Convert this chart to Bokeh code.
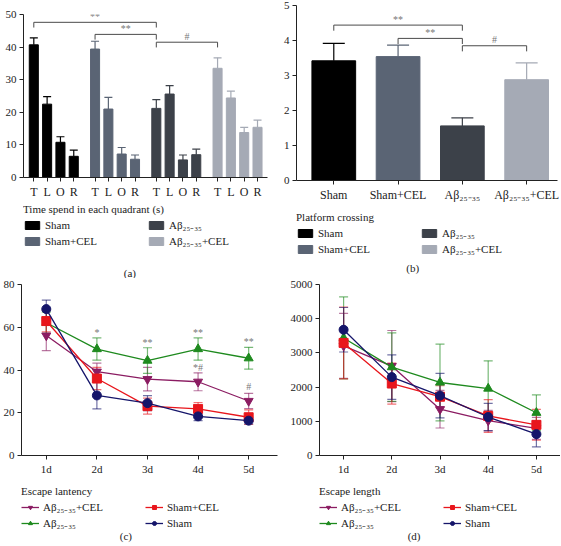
from bokeh.plotting import figure
from bokeh.models import (ColumnDataSource, Whisker, TeeHead, Legend, LegendItem,
                          FixedTicker, Label, Range1d)
from bokeh.layouts import gridplot, column
from bokeh.embed import file_html
from bokeh.resources import INLINE
from bokeh.core.properties import value

FONT = "Liberation Serif"
AB = "Aβ₂₅₋₃₅"

# ---------------- data ----------------
groups = ["Sham", "Sham+CEL", AB, AB + "+CEL"]
group_colors = ["#000000", "#5a6474", "#3c4149", "#a5aab5"]
quadrants = ["T", "L", "O", "R"]

# (a) time spent in each quadrant (s)
time_sham = [40.7, 22.5, 10.8, 6.5]
time_sham_err = [2.1, 2.3, 1.7, 1.9]
time_shamcel = [39.4, 21.0, 7.2, 5.6]
time_shamcel_err = [2.4, 3.6, 2.0, 1.3]
time_ab = [21.2, 25.6, 5.4, 7.0]
time_ab_err = [2.7, 2.6, 1.5, 1.7]
time_abcel = [33.5, 24.4, 13.8, 15.4]
time_abcel_err = [3.2, 2.1, 1.6, 2.2]
time_ticks = [0, 10, 20, 30, 40, 50]
# brackets: (group from, group to, height, label)
brackets_a = [(0, 2, 47.6, "**"), (1, 2, 43.9, "**"), (2, 3, 41.5, "#")]

# (b) platform crossing
crossing = [3.42, 3.54, 1.56, 2.88]
crossing_err = [0.50, 0.33, 0.23, 0.48]
crossing_ticks = [0, 1, 2, 3, 4, 5]
brackets_b = [(0, 2, 4.44, "**"), (1, 2, 4.06, "**"), (2, 3, 3.85, "#")]

# (c)/(d) days
days = ["1d", "2d", "3d", "4d", "5d"]
series_names = [AB + "+CEL", AB, "Sham+CEL", "Sham"]
series_colors = ["#8b1c62", "#1e8a1e", "#e8161c", "#15156a"]
series_markers = ["inverted_triangle", "triangle", "square", "circle"]

# (c) escape latency
lat_abcel = [56.1, 39.2, 35.7, 34.5, 25.5]
lat_abcel_err = [7.0, 4.0, 5.5, 4.2, 3.6]
lat_ab = [62.1, 49.8, 44.4, 49.8, 45.5]
lat_ab_err = [5.0, 5.2, 6.0, 5.2, 5.1]
lat_shamcel = [62.9, 36.0, 23.1, 21.8, 17.9]
lat_shamcel_err = [5.0, 5.2, 3.7, 3.0, 3.4]
lat_sham = [68.5, 28.1, 24.5, 18.3, 16.3]
lat_sham_err = [4.2, 6.3, 3.5, 2.0, 1.5]
lat_ticks = [0, 20, 40, 60, 80]
sig_c_day = [2, 3, 4, 5, 4, 5]
sig_c_y = [57.7, 53.0, 57.7, 53.4, 41.1, 32.1]
sig_c_text = ["*", "**", "**", "**", "*#", "#"]

# (d) escape length
len_abcel = [3208, 2615, 1354, 1021, 792]
len_abcel_err = [950, 1040, 550, 300, 320]
len_ab = [3437, 2583, 2135, 1958, 1250]
len_ab_err = [1200, 1000, 1120, 810, 520]
len_shamcel = [3292, 2104, 1719, 1156, 896]
len_shamcel_err = [1050, 600, 320, 480, 450]
len_sham = [3677, 2292, 1750, 1125, 625]
len_sham_err = [650, 650, 650, 400, 370]
len_ticks = [0, 1000, 2000, 3000, 4000, 5000]

PW = 280


def base_fig(xr, yr, h, left, right, top):
    p = figure(width=PW, height=h, x_range=xr, y_range=yr,
               output_backend="svg", toolbar_location=None,
               min_border_left=left, min_border_right=right,
               min_border_top=top, min_border_bottom=2)
    p.xgrid.visible = False
    p.ygrid.visible = False
    p.outline_line_color = None
    for ax in p.axis:
        ax.axis_line_color = "#222222"
        ax.major_tick_line_color = "#222222"
        ax.minor_tick_line_color = None
        ax.major_tick_out = 4
        ax.major_tick_in = 0
        ax.major_label_text_font = FONT
        ax.major_label_text_font_size = "11px"
        ax.major_label_text_color = "#222222"
        ax.major_label_standoff = 3
    return p


def legend_fig(h, left, top, title, caption, makers, cap_x, cap_y):
    """Legend below a panel; makers give hidden proxy renderers."""
    p = figure(width=PW, height=h, x_range=Range1d(0, 1), y_range=Range1d(0, 1),
               output_backend="svg", toolbar_location=None,
               min_border_left=left, min_border_right=0,
               min_border_top=top, min_border_bottom=0)
    p.axis.visible = False
    p.xgrid.visible = False
    p.ygrid.visible = False
    p.outline_line_color = None
    items = [LegendItem(label=lab, renderers=mk(p)) for lab, mk in makers]
    leg = Legend(items=items, title=title, ncols=2, location="top_left",
                 title_text_font=FONT, title_text_font_size="11px",
                 title_text_font_style="normal", title_text_color="#222222",
                 title_standoff=2,
                 label_text_font=FONT, label_text_font_size="11px",
                 label_text_color="#222222",
                 glyph_width=18, glyph_height=10, label_height=13,
                 label_width=101, label_standoff=4, spacing=1,
                 padding=1, margin=0, border_line_color=None,
                 background_fill_alpha=0, inactive_fill_alpha=0)
    p.add_layout(leg, "center")
    cx = (cap_x - left) / (PW - left)
    cy = 1 - (cap_y - top) / (h - top)
    p.add_layout(Label(x=cx, y=cy, text=caption, text_align="center",
                       text_baseline="middle", text_font=FONT,
                       text_font_size="11px", text_color="#222222"))
    return p


def draw_brackets(p, brackets, xpos, drop, lift, fsize):
    xs, ys, tx, ty, tt = [], [], [], [], []
    for g0, g1, h, lab in brackets:
        x0, x1 = xpos[g0], xpos[g1]
        xs.append([x0, x0, x1, x1])
        ys.append([h - drop, h, h, h - drop])
        tx.append((x0 + x1) / 2)
        ty.append(h + lift)
        tt.append(lab)
    p.multi_line(xs, ys, line_color="#4a4a4a", line_width=1)
    p.text(tx, ty, text=tt, text_align="center", text_baseline="middle",
           text_font=value(FONT), text_font_size=fsize, text_color="#777777")


def bar_maker(color):
    def mk(p):
        r = p.vbar(x=[-5], top=[0.5], width=0.1, fill_color=color, line_color=color)
        r.visible = False
        return [r]
    return mk


def line_maker(k):
    def mk(p):
        c = series_colors[k]
        rl = p.line(x=[-6, -5], y=[0.5, 0.5], line_color=c, line_width=1.3)
        rs = p.scatter(x=[-5], y=[0.5], marker=series_markers[k], size=9,
                       fill_color=c, line_color=c)
        rl.visible = False
        rs.visible = False
        return [rl, rs]
    return mk


# ---------------- (a) ----------------
pa = base_fig(Range1d(-3.87, 87.75), Range1d(0, 50), 201, 23, 13, 14)
a_vals = [time_sham, time_shamcel, time_ab, time_abcel]
a_errs = [time_sham_err, time_shamcel_err, time_ab_err, time_abcel_err]
a_ticks = []
for g in range(4):
    xs = [23 * g + 5 * j for j in range(4)]
    a_ticks += xs
    src = ColumnDataSource(dict(x=xs, top=a_vals[g],
                                up=[v + e for v, e in zip(a_vals[g], a_errs[g])]))
    pa.vbar(x="x", top="top", width=3.4, source=src,
            fill_color=group_colors[g], line_color=group_colors[g])
    pa.add_layout(Whisker(source=src, base="x", lower="top", upper="up",
                          line_color=group_colors[g], line_width=1.2,
                          lower_head=None,
                          upper_head=TeeHead(size=8, line_color=group_colors[g],
                                             line_width=1.2)))
pa.xaxis.ticker = FixedTicker(ticks=a_ticks)
pa.xaxis.major_label_overrides = {t: quadrants[i % 4] for i, t in enumerate(a_ticks)}
pa.xaxis.major_label_text_font_size = "12px"
pa.yaxis.ticker = FixedTicker(ticks=time_ticks)
draw_brackets(pa, brackets_a, [23 * g for g in range(4)], 1.6, 1.9, "10px")
la = legend_fig(77, 23, 2, "Time spend in each quadrant (s)", "(a)",
                [(groups[g], bar_maker(group_colors[g])) for g in range(4)], 135, 71)

# ---------------- (b) ----------------
pb = base_fig(Range1d(-0.58, 3.48), Range1d(0, 5), 204, 13, 3, 5)
bx = list(range(4))
srcb = ColumnDataSource(dict(x=bx, top=crossing, color=group_colors))
pb.vbar(x="x", top="top", width=0.68, source=srcb,
        fill_color="color", line_color="color")
for i in range(4):
    s1 = ColumnDataSource(dict(x=[bx[i]], top=[crossing[i]],
                               up=[crossing[i] + crossing_err[i]]))
    pb.add_layout(Whisker(source=s1, base="x", lower="top", upper="up",
                          line_color=group_colors[i], line_width=1.2, lower_head=None,
                          upper_head=TeeHead(size=22, line_color=group_colors[i],
                                             line_width=1.2)))
pb.xaxis.ticker = FixedTicker(ticks=bx)
pb.xaxis.major_label_overrides = {i: groups[i] for i in bx}
pb.xaxis.major_label_text_font_size = "12px"
pb.yaxis.ticker = FixedTicker(ticks=crossing_ticks)
draw_brackets(pb, brackets_b, bx, 0.16, 0.17, "10px")
lb = legend_fig(74, 15, 7, "Platform crossing", "(b)",
                [(groups[g], bar_maker(group_colors[g])) for g in range(4)], 133, 63)


# ---------------- (c) / (d) ----------------
def line_panel(vals, errs, xr, yr, ticks, left, right):
    p = base_fig(xr, yr, 199, left, right, 6)
    dx = list(range(1, 6))
    for k in range(4):
        c = series_colors[k]
        src = ColumnDataSource(dict(x=dx, y=vals[k],
                                    lo=[v - e for v, e in zip(vals[k], errs[k])],
                                    hi=[v + e for v, e in zip(vals[k], errs[k])]))
        p.add_layout(Whisker(source=src, base="x", lower="lo", upper="hi",
                             line_color=c, line_alpha=0.6, line_width=1.2,
                             lower_head=TeeHead(size=9, line_color=c, line_alpha=0.6,
                                                line_width=1.2),
                             upper_head=TeeHead(size=9, line_color=c, line_alpha=0.6,
                                                line_width=1.2)))
        p.line("x", "y", source=src, line_color=c, line_width=1.3)
        p.scatter("x", "y", source=src, marker=series_markers[k], size=9,
                  fill_color=c, line_color=c)
    p.xaxis.ticker = FixedTicker(ticks=dx)
    p.xaxis.major_label_overrides = {d: days[d - 1] for d in dx}
    p.yaxis.ticker = FixedTicker(ticks=ticks)
    return p


line_items = [(series_names[k], line_maker(k)) for k in range(4)]

pc = line_panel([lat_abcel, lat_ab, lat_shamcel, lat_sham],
                [lat_abcel_err, lat_ab_err, lat_shamcel_err, lat_sham_err],
                Range1d(0.51, 5.57), Range1d(0, 80), lat_ticks, 21, 3)
pc.text(sig_c_day, sig_c_y, text=sig_c_text, text_align="center",
        text_baseline="middle", text_font=value(FONT), text_font_size="10px",
        text_color="#777777")
lc = legend_fig(68, 20, 8, "Escape lantency", "(c)", line_items, 126, 58)

pd_ = line_panel([len_abcel, len_ab, len_shamcel, len_sham],
                 [len_abcel_err, len_ab_err, len_shamcel_err, len_sham_err],
                 Range1d(0.5, 5.5), Range1d(0, 5000), len_ticks, 39, 0)
ld = legend_fig(68, 38, 8, "Escape length", "(d)", line_items, 133, 58)

grid = gridplot([[column(pa, la), column(pb, lb)],
                 [column(pc, lc), column(pd_, ld)]], toolbar_location=None)

open("out.html", "w").write(file_html(grid, INLINE))
